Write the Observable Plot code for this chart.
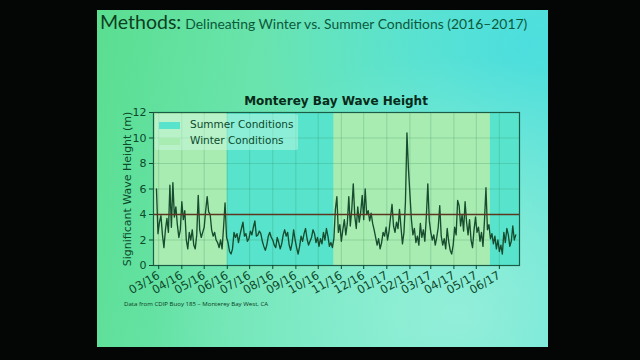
<!DOCTYPE html>
<html>
<head>
<meta charset="utf-8">
<script src="https://cdn.jsdelivr.net/npm/d3@7"></script>
<script src="https://cdn.jsdelivr.net/npm/@observablehq/plot@0.6"></script>
<style>
  html, body { margin: 0; padding: 0; width: 640px; height: 360px; overflow: hidden; background: #030605; }
  #slide {
    position: absolute; left: 97px; top: 10px; width: 451px; height: 337px;
    background:
      radial-gradient(ellipse at 80% 90%, rgba(165, 242, 222, 0.7) 0%, rgba(165, 242, 222, 0) 60%),
      radial-gradient(ellipse at 95% 10%, rgba(70, 220, 225, 0.8) 0%, rgba(70, 220, 225, 0) 45%),
      linear-gradient(100deg, #5ade90 0%, #6ae4ae 35%, #6ce8c6 70%, #5ee2d6 100%);
  }
  .abs { position: absolute; white-space: nowrap; }
  #heading { left: 100px; top: 10px; font-family: Lato, "Open Sans", sans-serif; color: #0d3f22; }
  #heading .big { font-size: 19.5px; }
  #heading .small { font-size: 13.9px; color: #0b5a3c; }
  #chartTitle { left: 153px; width: 366px; top: 94px; text-align: center; font-family: "DejaVu Sans", sans-serif; font-weight: bold; font-size: 12px; color: #072a18; }
  #chart { left: 110px; top: 90px; }
  #legend { left: 155px; top: 114px; width: 143px; height: 36px; background: rgba(205, 250, 228, 0.45); border-radius: 2px; font-family: "DejaVu Sans", sans-serif; font-size: 10.5px; color: #0b4a2c; }
  #legend .row { position: absolute; left: 4px; height: 14px; line-height: 14px; }
  #legend .sw { display: inline-block; width: 21px; height: 7px; vertical-align: middle; margin-right: 10px; }
  #caption { left: 124px; top: 299px; font-family: "Open Sans", sans-serif; font-size: 6.1px; color: #0b3a22; }
</style>
</head>
<body>
<div id="slide"></div>
<div id="heading" class="abs"><span class="big">Methods:</span> <span class="small">Delineating Winter vs. Summer Conditions (2016–2017)</span></div>
<div id="chartTitle" class="abs">Monterey Bay Wave Height</div>
<div id="chart" class="abs"></div>
<div id="legend" class="abs"></div>
<div id="caption" class="abs">Data from CDIP Buoy 185 – Monterey Bay West, CA</div>
<script>
// Significant wave height (m), one reading every two days starting 2016-02-27
const sampleStart = "2016-02-27";
const sampleStepDays = 2;
const waveHeights = [
  6.0, 2.5, 3.4, 3.9, 2.4, 1.4, 2.8, 3.7, 2.6, 6.3,
  3.0, 6.5, 3.8, 4.6, 3.2, 2.2, 2.8, 5.0, 3.6, 4.3,
  2.0, 1.3, 2.6, 2.0, 2.8, 1.6, 1.3, 2.4, 5.5, 2.8,
  2.2, 2.6, 3.0, 4.3, 5.4, 4.2, 4.0, 2.8, 2.3, 2.6,
  2.0, 1.8, 1.4, 2.0, 1.3, 3.0, 4.9, 2.2, 1.8, 1.1,
  0.9, 1.3, 2.6, 2.2, 2.5, 1.8, 2.4, 2.9, 3.4, 2.3,
  2.5, 1.9, 2.1, 2.7, 2.4, 3.0, 3.5, 2.3, 2.4, 2.7,
  2.5, 1.9, 1.5, 1.2, 1.6, 2.3, 2.6, 2.2, 2.0, 1.6,
  1.4, 2.2, 1.8, 1.3, 1.7, 2.4, 2.8, 2.3, 2.6, 1.6,
  1.2, 1.8, 2.8, 2.0, 1.4, 0.9, 1.5, 2.3, 1.9, 2.5,
  2.9, 2.1, 1.6, 1.9, 2.2, 2.8, 2.5, 1.8, 2.2, 1.5,
  2.1, 1.7, 2.6, 2.0, 2.9, 2.3, 1.5, 1.8, 1.4, 2.1,
  4.4, 5.4, 2.6, 3.2, 1.9, 2.8, 3.6, 2.4, 3.3, 5.4,
  3.1, 4.4, 6.4, 3.9, 2.9, 4.6, 3.4, 4.2, 5.5, 3.6,
  6.0, 4.0, 4.3, 3.5, 4.1, 3.3, 2.8, 2.2, 1.6, 2.1,
  1.3, 1.8, 2.6, 2.3, 3.0, 2.0, 2.7, 3.8, 4.8, 3.1,
  2.6, 3.4, 2.9, 4.4, 3.0, 1.7, 2.6, 5.0, 10.4, 7.6,
  5.6, 3.6, 2.4, 2.9, 1.8, 2.3, 1.6, 3.3, 2.2, 2.8,
  1.9, 3.8, 6.4, 3.5, 2.6, 2.0, 2.4, 1.6, 2.2, 3.0,
  4.7, 2.3, 1.6, 2.1, 1.3, 2.9, 1.9, 1.2, 0.9, 1.6,
  3.0, 2.4, 5.1, 4.7, 3.1, 4.0, 2.7, 5.0, 3.4, 2.4,
  3.6, 2.0, 1.4, 2.8, 3.8, 2.6, 3.0, 1.9, 2.6, 1.5,
  3.5, 6.1, 2.8, 3.2, 2.1, 2.5, 1.7, 2.3, 1.3, 2.0,
  1.1, 1.6, 0.9, 2.6, 1.8, 2.9, 2.4, 1.5, 1.9, 3.1,
  2.0, 2.4
];

// Season spans shading the background
const seasonNames = ["Winter", "Summer", "Winter", "Summer"];
const seasonStarts = ["2016-02-23", "2016-06-01", "2016-10-22", "2017-05-20"];
const seasonEnds = ["2016-06-01", "2016-10-22", "2017-05-20", "2017-06-28"];

// Month ticks and their labels
const monthTicks = ["2016-03-01", "2016-04-01", "2016-05-01", "2016-06-01", "2016-07-01", "2016-08-01",
  "2016-09-01", "2016-10-01", "2016-11-01", "2016-12-01", "2017-01-01", "2017-02-01",
  "2017-03-01", "2017-04-01", "2017-05-01", "2017-06-01"];
const monthLabels = ["03/16", "04/16", "05/16", "06/16", "07/16", "08/16", "09/16", "10/16",
  "11/16", "12/16", "01/17", "02/17", "03/17", "04/17", "05/17", "06/17"];
const heightTicks = [0, 2, 4, 6, 8, 10, 12];
const threshold = 4;
const xDomain = ["2016-02-23", "2017-06-28"];

const colors = {
  Summer: "#58e4cc",
  Winter: "#a9ecb2",
  line: "#174d2e",
  rule: "#5e3620",
  grid: "#2f8a5c",
  frame: "#1a5c46",
  text: "#0d4a2c"
};

const start = new Date(sampleStart);
const waves = waveHeights.map((h, i) => ({ date: d3.utcDay.offset(start, i * sampleStepDays), height: h }));
const seasons = seasonNames.map((s, i) => ({ season: s, start: new Date(seasonStarts[i]), end: new Date(seasonEnds[i]) }));
const tickDates = monthTicks.map(d => new Date(d));
const labelFor = new Map(tickDates.map((d, i) => [+d, monthLabels[i]]));

const chart = Plot.plot({
  width: 420,
  height: 210,
  marginLeft: 43,
  marginRight: 11,
  marginTop: 22,
  marginBottom: 35,
  style: { background: "transparent", fontFamily: "DejaVu Sans, sans-serif", fontSize: "11px", color: colors.text, overflow: "visible" },
  x: { type: "utc", domain: xDomain.map(d => new Date(d)) },
  y: { domain: [0, 12] },
  marks: [
    Plot.rect(seasons, { x1: "start", x2: "end", y1: 0, y2: 12, fill: d => colors[d.season] }),
    Plot.gridX(tickDates, { stroke: colors.grid, strokeOpacity: 0.25 }),
    Plot.gridY(heightTicks, { stroke: colors.grid, strokeOpacity: 0.25 }),
    Plot.line(waves, { x: "date", y: "height", stroke: colors.line, strokeWidth: 1.35, strokeLinejoin: "round" }),
    Plot.ruleY([threshold], { stroke: colors.rule, strokeWidth: 1.3 }),
    Plot.frame({ stroke: colors.frame, strokeWidth: 1.2 }),
    Plot.axisX(tickDates, { tickFormat: d => labelFor.get(+d), tickRotate: -30, tickSize: 4, tickPadding: 5, label: null, fontSize: 11.5 }),
    Plot.axisY(heightTicks, { tickSize: 4, tickPadding: 3, label: "Significant Wave Height (m)", labelAnchor: "center", labelArrow: "none", labelOffset: 30, fontSize: 11 })
  ]
});
document.getElementById("chart").appendChild(chart);

// Legend entries
const legend = document.getElementById("legend");
["Summer", "Winter"].forEach((s, i) => {
  const row = document.createElement("div");
  row.className = "row";
  row.style.top = (3 + i * 16) + "px";
  row.innerHTML = `<span class="sw" style="background:${colors[s]}"></span>${s} Conditions`;
  legend.appendChild(row);
});
</script>
</body>
</html>
